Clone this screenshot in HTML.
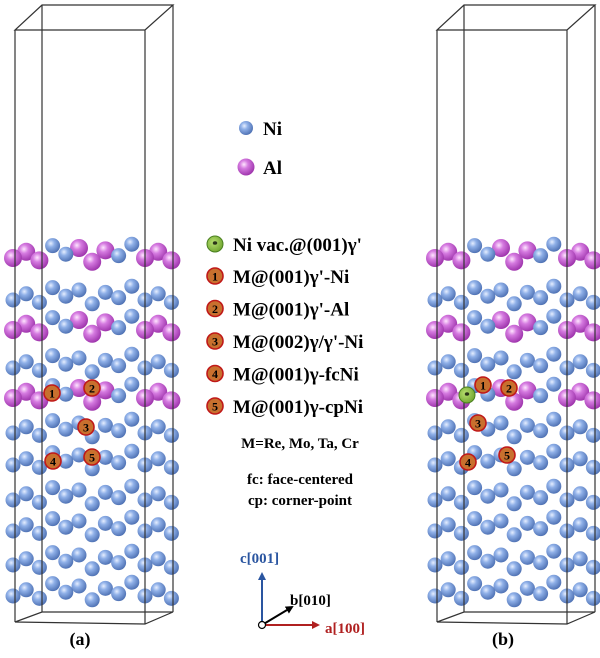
<!DOCTYPE html>
<html><head><meta charset="utf-8"><style>
body{margin:0;background:#fff;width:600px;height:658px;overflow:hidden}
svg{display:block}
text{font-family:"Liberation Serif",serif;font-weight:bold}
</style></head><body>
<svg id="s" width="600" height="658" viewBox="0 0 600 658" xmlns="http://www.w3.org/2000/svg">
<defs>
<radialGradient id="ni" cx="0.38" cy="0.35" r="0.7"><stop offset="0" stop-color="#e6eeff"/><stop offset="0.35" stop-color="#8fb0e8"/><stop offset="1" stop-color="#4a6db0"/></radialGradient>
<radialGradient id="al" cx="0.38" cy="0.35" r="0.7"><stop offset="0" stop-color="#ffe6ff"/><stop offset="0.35" stop-color="#d57ae0"/><stop offset="1" stop-color="#9a2fa8"/></radialGradient>
<radialGradient id="gr" cx="0.4" cy="0.4" r="0.7"><stop offset="0" stop-color="#b8e070"/><stop offset="1" stop-color="#6aa02a"/></radialGradient>
<marker id="ab" markerWidth="8" markerHeight="8" refX="6" refY="4" orient="auto" markerUnits="userSpaceOnUse"><path d="M0,0L8,4L0,8z" fill="#2a55a0"/></marker>
<marker id="ar" markerWidth="8" markerHeight="8" refX="6" refY="4" orient="auto" markerUnits="userSpaceOnUse"><path d="M0,0L8,4L0,8z" fill="#b02020"/></marker>
<marker id="ak" markerWidth="8" markerHeight="8" refX="6" refY="4" orient="auto" markerUnits="userSpaceOnUse"><path d="M0,0L8,4L0,8z" fill="#000"/></marker>
</defs>
<g id="atoms"></g>
<g id="boxes" fill="none" stroke="#333" stroke-width="1.2"></g>
<g id="marks"></g>
<!-- legend -->
<circle cx="246" cy="128" r="7" fill="url(#ni)"/><text x="263" y="135" font-size="19">Ni</text>
<circle cx="246" cy="167" r="8.5" fill="url(#al)"/><text x="263" y="174" font-size="19">Al</text>
<circle cx="215" cy="244" r="8" fill="url(#gr)" stroke="#4a8020"/><text x="215" y="248" font-size="11" text-anchor="middle">*</text>
<text x="233" y="251" font-size="19">Ni vac.@(001)γ'</text>
<g id="leg"></g>
<text x="300" y="448" font-size="15" text-anchor="middle">M=Re, Mo, Ta, Cr</text>
<text x="300" y="484" font-size="15" text-anchor="middle">fc: face-centered</text>
<text x="300" y="505" font-size="15" text-anchor="middle">cp: corner-point</text>
<!-- axes -->
<line x1="262" y1="625" x2="262" y2="574" stroke="#2a55a0" stroke-width="2" marker-end="url(#ab)"/>
<line x1="262" y1="625" x2="318" y2="625" stroke="#b02020" stroke-width="2" marker-end="url(#ar)"/>
<line x1="262" y1="625" x2="292" y2="607" stroke="#000" stroke-width="2" marker-end="url(#ak)"/>
<circle cx="262" cy="625" r="3.5" fill="#fff" stroke="#000" stroke-width="1.2"/>
<text x="240" y="563" font-size="15" fill="#2a55a0">c[001]</text>
<text x="290" y="605" font-size="15">b[010]</text>
<text x="325" y="633" font-size="15" fill="#b02020">a[100]</text>
<text x="80" y="645" font-size="18" text-anchor="middle">(a)</text>
<text x="503" y="645" font-size="18" text-anchor="middle">(b)</text>
</svg>
<script>
var NS="http://www.w3.org/2000/svg";
function el(t,a,p){var e=document.createElementNS(NS,t);for(var k in a)e.setAttribute(k,a[k]);(p||document.getElementById('s')).appendChild(e);return e;}
var atoms=document.getElementById('atoms'),boxes=document.getElementById('boxes'),marks=document.getElementById('marks');
var bases=[255,297,327,365,395,430,462,497,528,562,593];
var alL={0:1,2:1,4:1};
var alPat=[1,1,1,0,0,1,1,1,0,0,1,1,1];
[0,422].forEach(function(off){
  var list=[];
  bases.forEach(function(b,li){
    for(var i=0;i<13;i++){
      var x=off+13+i*13.2;
      var y=b+(i%2?-7:3)+4*Math.sin(i*Math.PI/2.5);
      var al=alL[li]&&alPat[i];
      list.push({x:x,y:y,al:al});
    }
  });
  list.sort(function(a,b){return a.y-b.y});
  list.forEach(function(a){el('circle',{cx:a.x,cy:a.y,r:a.al?9:7.5,fill:a.al?'url(#al)':'url(#ni)'},atoms);});
  var L=off+15,R=off+145,BL=off+42,BR=off+173;
  el('path',{d:'M'+BL+',5H'+BR+'L'+R+',30H'+L+'Z M'+L+',30V622 M'+R+',30V624 M'+BL+',5V612 M'+BR+',5V612 M'+L+',622L'+R+',624L'+BR+',612L'+BL+',612Z'},boxes);
});
function mk(x,y,n,g){el('circle',{cx:x,cy:y,r:8,fill:'#c8702e',stroke:'#c01818','stroke-width':1.6},g||marks);var t=el('text',{x:x,y:y+4.5,'font-size':12,'text-anchor':'middle'},g||marks);t.textContent=n;}
[[52,393,1],[92,388,2],[86,427,3],[53,461,4],[92,457,5],[483,385,1],[509,388,2],[478,423,3],[468,462,4],[507,455,5]].forEach(function(a){mk(a[0],a[1],a[2]);});
el('circle',{cx:467,cy:395,r:8,fill:'url(#gr)',stroke:'#4a8020'},marks);
var st=el('text',{x:467,y:399,'font-size':11,'text-anchor':'middle'},marks);st.textContent='*';
var leg=document.getElementById('leg');
var labs=["M@(001)γ'-Ni","M@(001)γ'-Al","M@(002)γ/γ'-Ni","M@(001)γ-fcNi","M@(001)γ-cpNi"];
labs.forEach(function(s,i){var y=276+i*32.5;mk(215,y,i+1,leg);var t=el('text',{x:233,y:y+7,'font-size':19},leg);t.textContent=s;});
</script>
</body></html>
